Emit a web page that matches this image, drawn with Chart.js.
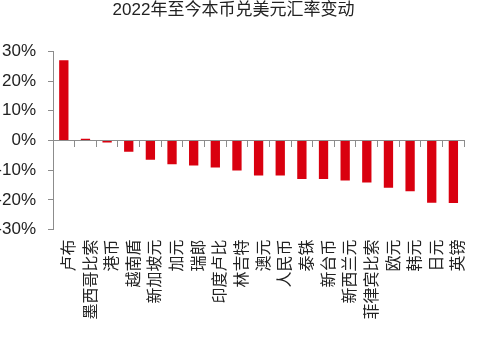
<!DOCTYPE html>
<html>
<head>
<meta charset="utf-8">
<script src="https://cdn.jsdelivr.net/npm/chart.js@4/dist/chart.umd.min.js"></script>
<style>
  html, body { margin: 0; padding: 0; background: #fff; }
  #wrap { width: 483px; height: 346px; }
</style>
</head>
<body>
<div id="wrap"><canvas id="c" width="483" height="346"></canvas></div>
<script>
// Currencies, ordered from strongest to weakest change against USD since 2022
const currencies = ['卢布', '墨西哥比索', '港币', '越南盾', '新加坡元', '加元', '瑞郎', '印度卢比', '林吉特', '澳元',
  '人民币', '泰铢', '新台币', '新西兰元', '菲律宾比索', '欧元', '韩元', '日元', '英镑'];
// Percent change vs USD
const changePct = [27.0, 0.6, -0.7, -3.8, -6.5, -8.0, -8.4, -9.1, -10.1, -11.8,
  -11.8, -13.0, -13.0, -13.5, -14.2, -15.9, -17.1, -21.0, -21.1];
const yTicks = [-30, -20, -10, 0, 10, 20, 30];

const LATIN = '"Liberation Sans", Arial, "Noto Sans CJK SC", sans-serif';
const CJK = '"Noto Sans CJK SC", "Liberation Sans", sans-serif';
const AXIS_GREY = '#8c8c8c';

new Chart(document.getElementById('c'), {
  type: 'bar',
  data: {
    labels: currencies,
    datasets: [{
      data: changePct,
      backgroundColor: '#d9000f',
      borderWidth: 0,
      barPercentage: 0.43,
      categoryPercentage: 1.0,
      xAxisID: 'x',
      yAxisID: 'y'
    }]
  },
  options: {
    responsive: false,
    animation: false,
    layout: { padding: { left: 0, right: 16, top: 0, bottom: 0 } },
    plugins: {
      legend: { display: false },
      tooltip: { enabled: false },
      title: {
        display: true,
        text: '2022年至今本币兑美元汇率变动',
        color: '#222',
        font: { family: LATIN, size: 17, weight: 'normal' },
        padding: { top: 0, bottom: 31 }
      }
    },
    scales: {
      // axis line through zero, with tick marks between categories
      x: {
        type: 'category',
        position: { y: 0 },
        offset: true,
        ticks: { display: false },
        grid: {
          display: true,
          offset: true,
          drawOnChartArea: false,
          drawTicks: true,
          tickLength: 6,
          color: AXIS_GREY,
          lineWidth: 1
        },
        border: { display: true, color: AXIS_GREY, width: 1 }
      },
      // category names along the bottom
      x2: {
        type: 'category',
        position: 'bottom',
        offset: true,
        grid: { display: false, drawTicks: false },
        border: { display: false },
        ticks: {
          minRotation: 90,
          maxRotation: 90,
          autoSkip: false,
          padding: 10,
          labelOffset: 4,
          color: '#222',
          font: { family: CJK, size: 16 }
        },
        afterFit: (scale) => { scale.height = 116.5; }
      },
      y: {
        min: -30,
        max: 30,
        afterBuildTicks: (scale) => { scale.ticks = yTicks.map(v => ({ value: v })); },
        ticks: {
          padding: 12,
          color: '#222',
          font: { family: LATIN, size: 17 },
          callback: (v) => v + '%'
        },
        grid: {
          display: true,
          drawOnChartArea: false,
          drawTicks: true,
          tickLength: 5,
          color: AXIS_GREY
        },
        border: { display: true, color: AXIS_GREY, width: 1 },
        afterFit: (scale) => { scale.width = 53; }
      }
    }
  }
});
</script>
</body>
</html>
